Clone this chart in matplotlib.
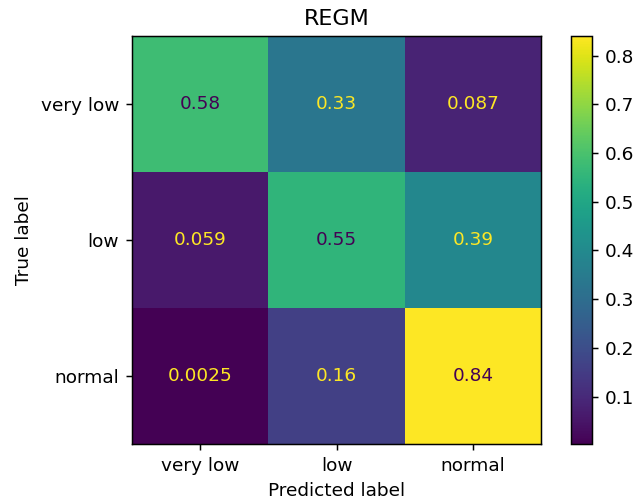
import matplotlib
matplotlib.use("Agg")
import matplotlib.pyplot as plt
import numpy as np

labels = ["very low", "low", "normal"]
cm = np.array([
    [0.58, 0.33, 0.087],
    [0.059, 0.55, 0.39],
    [0.0025, 0.16, 0.84],
])
cell_text = [
    ["0.58", "0.33", "0.087"],
    ["0.059", "0.55", "0.39"],
    ["0.0025", "0.16", "0.84"],
]

dpi = 133.33
fig = plt.figure(figsize=(635 / dpi, 504 / dpi), dpi=dpi)
ax = fig.add_axes([0.2079, 0.119, 0.6441, 0.8095])
cax = fig.add_axes([0.8992, 0.119, 0.033, 0.8095])

cmap = plt.get_cmap("viridis")
im = ax.imshow(cm, cmap=cmap, interpolation="nearest", aspect="auto")
thresh = (cm.max() + cm.min()) / 2.0
dark, light = cmap(0.0), cmap(1.0)
for i in range(cm.shape[0]):
    for j in range(cm.shape[1]):
        color = dark if cm[i, j] >= thresh else light
        ax.text(j, i, cell_text[i][j], ha="center", va="center", color=color)

ax.set_xticks(range(len(labels)))
ax.set_xticklabels(labels)
ax.set_yticks(range(len(labels)))
ax.set_yticklabels(labels)
ax.set_xlabel("Predicted label")
ax.set_ylabel("True label")
ax.set_title("REGM")

cb = fig.colorbar(im, cax=cax)

fig.savefig("out.png", dpi=dpi)
